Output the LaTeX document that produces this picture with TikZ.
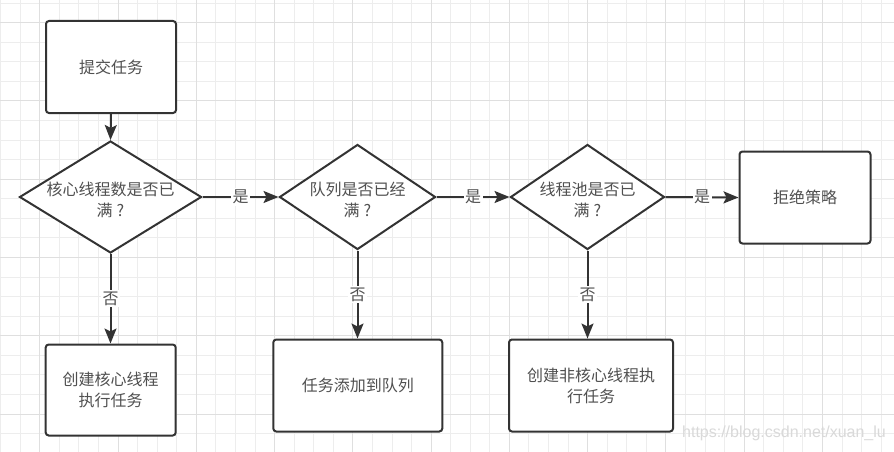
\documentclass[tikz,border=0pt]{standalone}
\usepackage{fontspec}
\setmainfont{Liberation Sans}
\newfontfamily\cjk{Noto Sans CJK SC}
\usetikzlibrary{shapes.geometric,arrows.meta}
\definecolor{linec}{HTML}{333333}
\definecolor{textc}{HTML}{505050}
\definecolor{gridthin}{HTML}{EDEDED}
\definecolor{gridthick}{HTML}{DFDFDF}
\definecolor{wmark}{HTML}{D9D9D9}
\tikzset{
  boxnode/.style={draw=linec, line width=2pt, rounded corners=3pt, fill=white, inner sep=0pt},
  diam/.style={draw=linec, line width=2pt, diamond, fill=white, inner sep=0pt},
  txt/.style={text=textc, font=\cjk\fontsize{16}{21}\selectfont, align=center, inner sep=0pt},
  arr/.style={draw=linec, line width=2pt, -{Stealth[length=15pt,width=12pt,inset=3pt]}},
  lbl/.style={fill=white, text=textc, font=\cjk\fontsize{16}{19}\selectfont, inner sep=1.5pt},
}
\newcommand{\qm}{\hspace{4pt}?}
\begin{document}
\begin{tikzpicture}[x=1pt,y=-1pt]
\useasboundingbox (0,0) rectangle (894,452);
\fill[white] (0,0) rectangle (894,452);
% grid
\foreach \k in {0,...,45} \draw[gridthin, line width=1pt] ({0.6+19.57*\k},0) -- ++(0,452);
\foreach \k in {0,...,22} \draw[gridthin, line width=1pt] (0,{3.1+19.57*\k}) -- ++(894,0);
\foreach \k in {2,6,...,42} \draw[gridthick, line width=1pt] ({0.6+19.57*\k},0) -- ++(0,452);
\foreach \k in {1,5,...,21} \draw[gridthick, line width=1pt] (0,{3.1+19.57*\k}) -- ++(894,0);

% nodes
\node[boxnode, minimum width=130pt, minimum height=92pt] (start) at (111,67) {};
\node[txt] at (start) {提交任务};

\node[diam, minimum width=182pt, minimum height=112pt] (d1) at (110.5,197) {};
\node[txt] at (110.5,199.5) {核心线程数是否已\\满\qm};

\node[diam, minimum width=156pt, minimum height=105pt] (d2) at (357.5,197) {};
\node[txt] at (357.5,199.5) {队列是否已经\\满\qm};

\node[diam, minimum width=154pt, minimum height=105pt] (d3) at (587.5,197) {};
\node[txt] at (587.5,199.5) {线程池是否已\\满\qm};

\node[boxnode, minimum width=131pt, minimum height=92pt] (rej) at (805,197.5) {};
\node[txt] at (rej) {拒绝策略};

\node[boxnode, minimum width=130pt, minimum height=91pt] (b1) at (110.7,390) {};
\node[txt] at (b1) {创建核心线程\\执行任务};

\node[boxnode, minimum width=169pt, minimum height=92pt] (b2) at (357.8,385.5) {};
\node[txt] at (b2) {任务添加到队列};

\node[boxnode, minimum width=164pt, minimum height=92pt] (b3) at (591,385.5) {};
\node[txt] at (b3) {创建非核心线程执\\行任务};

% connectors
\draw[arr] (start.south) -- (d1.north);
\draw[arr] (d1.east) -- node[lbl] {是} (d2.west);
\draw[arr] (d2.east) -- node[lbl] {是} (d3.west);
\draw[arr] (d3.east) -- node[lbl] {是} (rej.west);
\draw[arr] (d1.south) -- node[lbl] {否} (d1.south |- b1.north);
\draw[arr] (d2.south) -- node[lbl] {否} (d2.south |- b2.north);
\draw[arr] (d3.south) -- node[lbl] {否} (d3.south |- b3.north);

% watermark
\node[text=wmark, font=\fontsize{16}{18}\selectfont, inner sep=0pt] (wm) at (784,433) {https://blog.csdn.net/xuan\_lu};
\end{tikzpicture}
\end{document}
